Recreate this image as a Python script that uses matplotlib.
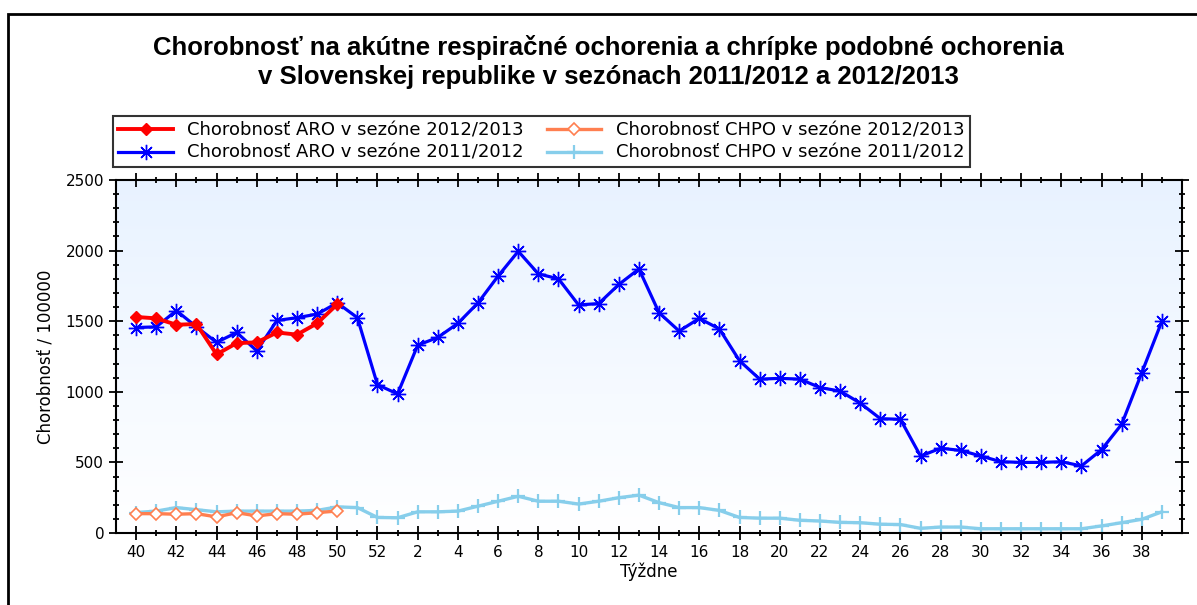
import matplotlib.pyplot as plt
import numpy as np
from matplotlib.patches import Rectangle

# weeks of the season: 40..52, then 1..39
weeks = list(range(40, 53)) + list(range(1, 40))
tick_labels = [str(w) if w % 2 == 0 else "" for w in weeks]

# ARO 2011/2012 (whole season)
aro_1112 = [1455, 1460, 1575, 1460, 1350, 1420, 1290, 1505, 1525, 1550, 1630, 1525,
            1050, 985, 1330, 1385, 1485, 1630, 1820, 1995, 1835, 1800, 1615, 1625,
            1760, 1870, 1560, 1430, 1520, 1445, 1220, 1090, 1095, 1090, 1030, 1005,
            920, 810, 805, 545, 600, 585, 545, 505, 500, 500, 505, 475, 590, 770,
            1135, 1500]
# CHPO 2011/2012
chpo_1112 = [145, 155, 180, 165, 150, 155, 155, 155, 155, 160, 185, 180,
             110, 108, 150, 150, 155, 190, 225, 260, 225, 225, 205, 225,
             250, 268, 215, 180, 180, 160, 110, 105, 105, 90, 85, 75,
             73, 62, 60, 33, 42, 42, 30, 30, 30, 30, 30, 30, 50, 73,
             97, 150]
# ARO 2012/2013 (weeks 40-50)
aro_1213 = [1530, 1520, 1475, 1480, 1265, 1345, 1350, 1420, 1405, 1485, 1620]
# CHPO 2012/2013
chpo_1213 = [137, 137, 133, 137, 114, 144, 121, 137, 133, 144, 156]

x = np.arange(len(weeks))
x13 = x[:len(aro_1213)]

fig = plt.figure(figsize=(11.97, 6.05), dpi=100)
ax = fig.add_axes([116 / 1197, 1 - 533 / 605, 1066 / 1197, 353 / 605])

# white (bottom) -> light blue (top) background
grad = np.linspace(0, 1, 256).reshape(-1, 1)
top = np.array([0.91, 0.95, 1.0])
bot = np.array([1.0, 1.0, 1.0])
img = bot + (top - bot) * grad[..., None]
ax.imshow(img, extent=[-1, 52, 0, 2500], origin="lower", aspect="auto", zorder=0)

ax.plot(x, chpo_1112, color="#87CEEB", lw=2.4, marker="+", ms=10, mew=1.6,
        label="Chorobnosť CHPO v sezóne 2011/2012", zorder=2)
ax.plot(x13, chpo_1213, color="#FF7F50", lw=2.4, marker="D", ms=6.5, mfc="white",
        mec="#FF7F50", mew=1.2, label="Chorobnosť CHPO v sezóne 2012/2013", zorder=3)
ax.plot(x, aro_1112, color="#0000FF", lw=2.3, marker=(8, 2, 0), ms=11, mew=1.0,
        label="Chorobnosť ARO v sezóne 2011/2012", zorder=4)
ax.plot(x13, aro_1213, color="#FF0000", lw=2.8, marker="D", ms=6.5,
        label="Chorobnosť ARO v sezóne 2012/2013", zorder=5)

ax.set_xlim(-1, 52)
ax.set_ylim(0, 2500)
ax.set_xticks(x[::2])
ax.set_xticklabels(tick_labels[::2])
ax.set_xticks(x, minor=True)
ax.set_yticks(range(0, 2501, 500))
ax.set_yticks(range(0, 2501, 100), minor=True)
ax.tick_params(which="both", direction="inout", width=1.3, labelsize=11,
               top=True, right=True)
ax.tick_params(which="major", length=10)
ax.tick_params(which="minor", length=4.5)
for s in ax.spines.values():
    s.set_linewidth(1.5)

ax.set_xlabel("Týždne", fontsize=12, labelpad=2)
ax.set_ylabel("Chorobnosť / 100000", fontsize=12, labelpad=8)

title_font = ["Liberation Sans", "DejaVu Sans"]
fig.text(608 / 1197, 1 - 47 / 605, "Chorobnosť na akútne respiračné ochorenia a chrípke podobné ochorenia",
         ha="center", va="center", fontsize=18.5, fontweight="bold", family=title_font)
fig.text(608 / 1197, 1 - 77 / 605, "v Slovenskej republike v sezónach 2011/2012 a 2012/2013",
         ha="center", va="center", fontsize=18.5, fontweight="bold", family=title_font)

h, l = ax.get_legend_handles_labels()
order = [3, 2, 1, 0]
leg = fig.legend([h[i] for i in order], [l[i] for i in order], ncol=2,
                 loc="upper left", bbox_to_anchor=(113 / 1197, 1 - 116 / 605),
                 fontsize=13, frameon=True, fancybox=False, handlelength=3.0,
                 borderpad=0.3, labelspacing=0.25, columnspacing=1.3,
                 handletextpad=0.8, borderaxespad=0)
leg.get_frame().set_edgecolor("black")
leg.get_frame().set_linewidth(1.5)

# outer frame of the picture
fig.patches.append(Rectangle((8 / 1197, -0.1), 1.2, 1.1 - 14 / 605,
                             transform=fig.transFigure, fill=False,
                             edgecolor="black", lw=2))

fig.savefig("out.png", dpi=100)
